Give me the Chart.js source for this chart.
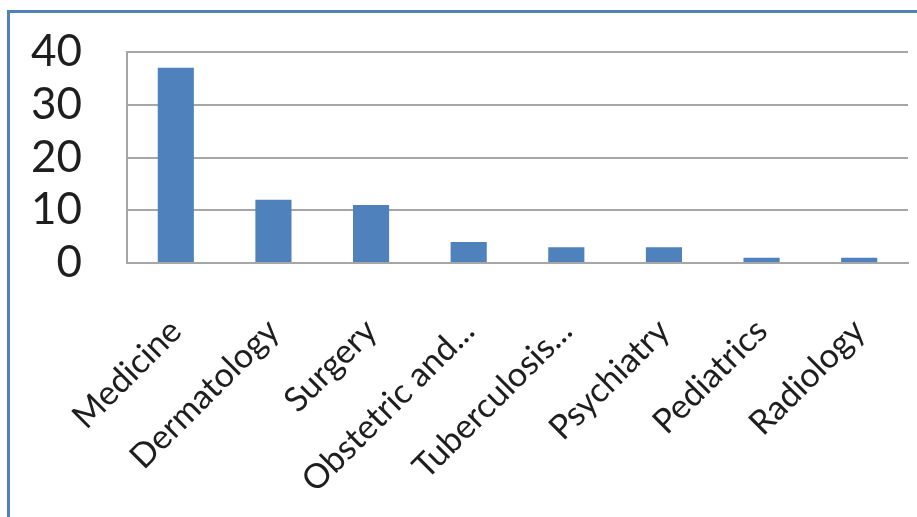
<!DOCTYPE html>
<html>
<head>
<meta charset="utf-8">
<script src="https://cdn.jsdelivr.net/npm/chart.js@4/dist/chart.umd.min.js"></script>
<style>
  html, body { margin: 0; padding: 0; background: #fff; }
  .frame {
    position: absolute; left: 7px; top: 10px; width: 910px; height: 507px;
    border-left: 3px solid #4f81bd; border-top: 3px solid #4f81bd;
  }
  #chart { position: absolute; left: 0; top: 0; }
</style>
</head>
<body>
<div class="frame"></div>
<canvas id="chart" width="917" height="517"></canvas>
<script>
const departments = ['Medicine', 'Dermatology', 'Surgery', 'Obstetric and...', 'Tuberculosis...', 'Psychiatry', 'Pediatrics', 'Radiology'];
const counts = [37, 12, 11, 4, 3, 3, 1, 1];
const yTicks = [0, 10, 20, 30, 40];

const ctx = document.getElementById('chart').getContext('2d');
new Chart(ctx, {
    type: 'bar',
    data: {
        labels: departments,
        datasets: [{
            data: counts,
            backgroundColor: '#4f81bd',
            barPercentage: 0.37,
            categoryPercentage: 1
        }]
    },
    options: {
        responsive: false,
        animation: false,
        layout: { padding: { top: 52, right: 9, left: 0, bottom: 0 } },
        plugins: { legend: { display: false }, tooltip: { enabled: false } },
        scales: {
            x: {
                afterFit: scale => {
                    scale.height = 254;
                    scale.paddingLeft = 0;
                    scale.paddingRight = 0;
                },
                grid: { display: false, drawTicks: false },
                border: { color: '#a6a6a6', width: 2 },
                ticks: {
                    minRotation: 45, maxRotation: 45, autoSkip: false,
                    padding: 48, color: '#1e1e1e',
                    font: { family: 'Lato', size: 34 }
                }
            },
            y: {
                min: 0, max: 40,
                afterFit: scale => {
                    scale.width = 127;
                    scale.paddingTop = 0;
                    scale.paddingBottom = 0;
                },
                afterBuildTicks: scale => { scale.ticks = yTicks.map(v => ({ value: v })); },
                grid: { color: '#a6a6a6', lineWidth: 2, drawTicks: false },
                border: { color: '#a6a6a6', width: 2 },
                ticks: {
                    autoSkip: false,
                    padding: 45, color: '#1e1e1e',
                    font: { family: 'Lato', size: 44 }
                }
            }
        }
    }
});
</script>
</body>
</html>
